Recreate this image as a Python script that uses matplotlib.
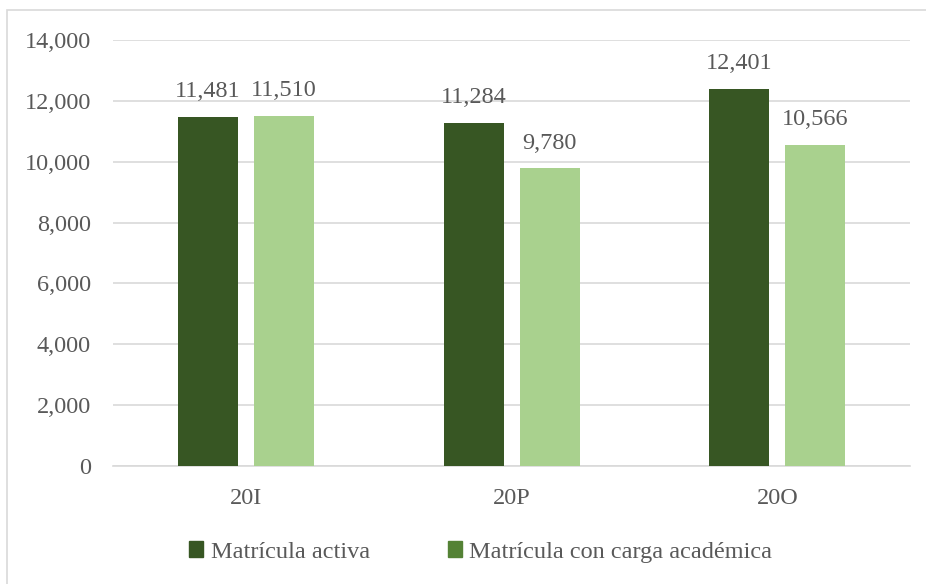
import matplotlib
matplotlib.use('Agg')
import matplotlib.pyplot as plt
import numpy as np
from matplotlib.patches import Rectangle, Patch

# datos
periodos = ['20I', '20P', '20O']
activa = [11481, 11284, 12401]
con_carga = [11510, 9780, 10566]
series = ['Matrícula activa', 'Matrícula con carga académica']

c_oscuro = '#375623'
c_claro = '#A9D18E'
c_leyenda = '#548235'
c_texto = '#595959'

plt.rcParams['font.family'] = ['Liberation Serif', 'DejaVu Serif']

fig = plt.figure(figsize=(9.26, 5.84), dpi=100)
ax = fig.add_axes([0.122, 0.202, 0.861, 0.7295])

x = np.arange(len(periodos))
w = 0.226
off = 0.143
b1 = ax.bar(x - off, activa, w, color=c_oscuro, zorder=3)
b2 = ax.bar(x + off, con_carga, w, color=c_claro, zorder=3)

for barras, vals in ((b1, activa), (b2, con_carga)):
    for r, v in zip(barras, vals):
        ax.text(r.get_x() + r.get_width() / 2, v + 480, f'{v:,}',
                ha='center', va='bottom', fontsize=17.5, color=c_texto)

ax.set_xlim(-0.5, 2.5)
ax.set_ylim(0, 14000)
ax.set_yticks(np.arange(0, 14001, 2000))
ax.set_yticklabels([f'{v:,}' for v in range(0, 14001, 2000)])
ax.set_xticks(x)
ax.set_xticklabels(periodos)
ax.tick_params(axis='both', length=0, labelsize=17.5, labelcolor=c_texto)
ax.tick_params(axis='y', pad=16)
ax.tick_params(axis='x', pad=16)
ax.grid(axis='y', color='#D9D9D9', linewidth=1.2, zorder=0)
for s in ['top', 'right', 'left']:
    ax.spines[s].set_visible(False)
ax.spines['bottom'].set_color('#D9D9D9')
ax.spines['bottom'].set_linewidth(1.2)

handles = [Patch(color=c_oscuro), Patch(color=c_leyenda)]
fig.legend(handles, series, loc='center', bbox_to_anchor=(0.519, 0.055), ncol=2,
           frameon=False, fontsize=17.5, labelcolor=c_texto,
           handlelength=0.6, handleheight=0.6, handletextpad=0.3, columnspacing=3.2)

fig.patches.append(Rectangle((7 / 926, -0.1), 1, 1.1 - 10 / 584, transform=fig.transFigure,
                             fill=False, edgecolor='#D9D9D9', linewidth=1.2))

fig.savefig('out.png', dpi=100)
